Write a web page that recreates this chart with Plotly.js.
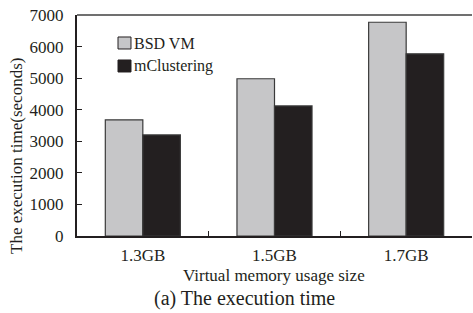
<!DOCTYPE html>
<html>
<head>
<meta charset="utf-8">
<script src="https://cdn.plot.ly/plotly-3.0.1.min.js"></script>
<style>html,body{margin:0;padding:0;background:#fff;}#chart{width:473px;height:313px;}</style>
</head>
<body>
<div id="chart"></div>
<script>
const categories = ["1.3GB", "1.5GB", "1.7GB"];
const seriesNames = ["BSD VM", "mClustering"];
const bsdVM = [3680, 4980, 6770];
const mClustering = [3200, 4120, 5770];
const yTicks = [0, 1000, 2000, 3000, 4000, 5000, 6000, 7000];
const seriesColors = ["#c6c6c8", "#231f20"];

const fam = "Liberation Serif, Times New Roman, serif";
const ink = "#231f20";

const traces = [
  {type: "bar", name: seriesNames[0], x: categories, y: bsdVM, showlegend: false,
   marker: {color: seriesColors[0], line: {color: "#3a3a3a", width: 1.2}}},
  {type: "bar", name: seriesNames[1], x: categories, y: mClustering, showlegend: false,
   marker: {color: seriesColors[1], line: {color: "#3a3a3a", width: 1.2}}}
];

// manual legend (symbols + labels) in paper coordinates
const legendShapes = seriesNames.map((n, i) => ({
  type: "rect", xref: "paper", yref: "paper",
  x0: 0.1038, x1: 0.1367, y0: 0.8462 - i * 0.1041, y1: 0.9005 - i * 0.1041,
  fillcolor: seriesColors[i], line: {color: "#231f20", width: 1}
}));
const legendLabels = seriesNames.map((n, i) => ({
  text: n, xref: "paper", yref: "paper", x: 0.1390, y: 0.8733 - i * 0.1041,
  xanchor: "left", yanchor: "middle", showarrow: false,
  font: {family: fam, size: 16, color: ink}
}));

const layout = {
  width: 473, height: 313,
  margin: {l: 77, r: 1, t: 15, b: 77},
  paper_bgcolor: "#fff", plot_bgcolor: "#fff",
  font: {family: fam, size: 17, color: ink},
  barmode: "group", bargap: 0.43, bargroupgap: 0,
  showlegend: false,
  xaxis: {
    type: "category", showgrid: false, zeroline: false,
    showline: true, linecolor: ink, linewidth: 2,
    ticks: "inside", tickson: "boundaries", ticklen: 5, tickcolor: ink,
    tickfont: {family: fam, size: 17, color: ink},
    ticklabelstandoff: 3
  },
  yaxis: {
    range: [0, 7000], tickvals: yTicks, showgrid: false, zeroline: false,
    showline: true, linecolor: ink, linewidth: 2,
    ticks: "inside", ticklen: 5, tickcolor: ink,
    tickfont: {family: fam, size: 17, color: ink},
    ticklabelstandoff: 8
  },
  shapes: [{type: "line", xref: "paper", yref: "paper", x0: 0, x1: 1, y0: 1, y1: 1,
            line: {color: "#707070", width: 2}}].concat(legendShapes),
  annotations: [
    {text: "Virtual memory usage size", xref: "paper", yref: "paper", x: 0.4987, y: -0.179,
     xanchor: "center", yanchor: "middle", showarrow: false, font: {family: fam, size: 17, color: ink}},
    {text: "The execution time(seconds)", xref: "paper", yref: "paper", x: -0.152, y: 0.362,
     xanchor: "center", yanchor: "middle", textangle: -90, showarrow: false, font: {family: fam, size: 17, color: ink}},
    {text: "(a) The execution time", xref: "paper", yref: "paper", x: 0.425, y: -0.281,
     xanchor: "center", yanchor: "middle", showarrow: false, font: {family: fam, size: 20, color: ink}}
  ].concat(legendLabels)
};

Plotly.newPlot("chart", traces, layout, {staticPlot: true, displayModeBar: false});
</script>
</body>
</html>
